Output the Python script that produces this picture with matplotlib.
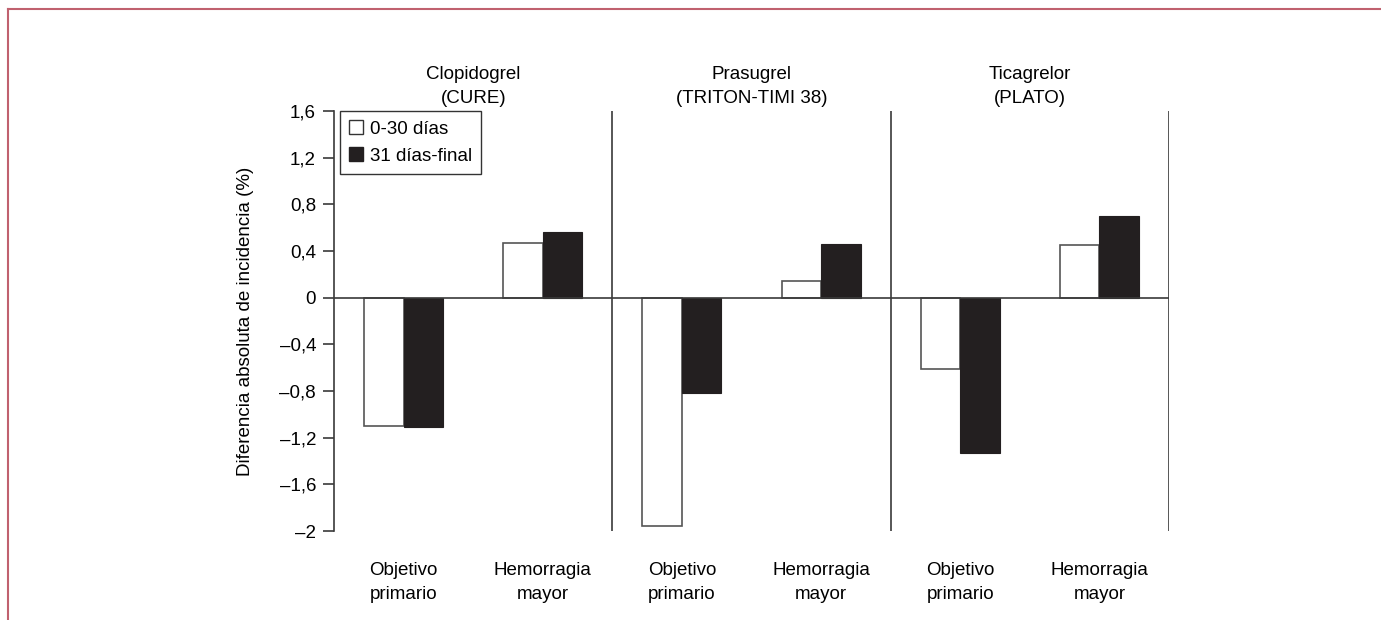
import numpy as np
import matplotlib
matplotlib.use("Agg")
import matplotlib.pyplot as plt
from matplotlib.lines import Line2D
from matplotlib.patches import Patch

plt.rcParams['font.family'] = ['Liberation Sans', 'DejaVu Sans']

# data
drugs = ['Clopidogrel\n(CURE)', 'Prasugrel\n(TRITON-TIMI 38)', 'Ticagrelor\n(PLATO)']
endpoints = ['Objetivo\nprimario', 'Hemorragia\nmayor']
early = [-1.10, 0.47, -1.96, 0.14, -0.61, 0.45]   # 0-30 dias
late = [-1.11, 0.56, -0.82, 0.46, -1.33, 0.70]    # 31 dias-final
yticks = [1.6, 1.2, 0.8, 0.4, 0, -0.4, -0.8, -1.2, -1.6, -2]

line_col = '#3a3a3a'
dark = '#231f20'

fig = plt.figure(figsize=(13.81, 6.2), dpi=100)
ax = fig.add_axes([0.2419, 0.1435, 0.8465 - 0.2419, 0.821 - 0.1435])

x = np.arange(len(early)) + 0.5
w = 0.284
ax.bar(x - w / 2, early, w, color='white', edgecolor='#555555', linewidth=1.2, zorder=2)
ax.bar(x + w / 2, late, w, color=dark, edgecolor=dark, linewidth=0.8, zorder=2)

ax.set_xlim(0, 6)
ax.set_ylim(-2, 1.6)
ax.axhline(0, color=line_col, lw=1.2, zorder=3)
for d in [2, 4, 6]:
    ax.axvline(d, color=line_col, lw=1.2)

for s in ['top', 'right', 'bottom']:
    ax.spines[s].set_visible(False)
ax.spines['left'].set_color(line_col)
ax.spines['left'].set_linewidth(1.2)

ax.set_yticks(yticks)
ax.set_yticklabels([('%g' % v).replace('-', '\u2013').replace('.', ',') for v in yticks], fontsize=13.5)
ax.tick_params(axis='y', length=8, width=1.2, color=line_col, pad=5)
ax.set_xticks(x)
ax.set_xticklabels(endpoints * 3, fontsize=13.5, linespacing=1.55)
ax.tick_params(axis='x', length=0, pad=22)

ax.set_ylabel('Diferencia absoluta de incidencia (%)', fontsize=13.5, labelpad=18)

for i, name in enumerate(drugs):
    ax.text(2 * i + 1, 1.63, name, ha='center', va='bottom', fontsize=13.5, linespacing=1.55)

handles = [Patch(facecolor='white', edgecolor='#333333', linewidth=1.0),
           Patch(facecolor=dark, edgecolor=dark)]
leg = ax.legend(handles, ['0-30 días', '31 días-final'], loc='upper left',
                bbox_to_anchor=(0.007, 1.0), fontsize=13.5, fancybox=False, framealpha=1,
                edgecolor='#333333', handlelength=0.75, handleheight=0.75,
                handletextpad=0.35, borderpad=0.5, labelspacing=0.5, borderaxespad=0)
leg.get_frame().set_linewidth(1.0)

# thin red border of the source figure
border = '#c0616f'
fig.add_artist(Line2D([8 / 1381, 1], [1 - 9 / 620, 1 - 9 / 620], color=border, lw=1.5))
fig.add_artist(Line2D([8 / 1381, 8 / 1381], [0, 1 - 9 / 620], color=border, lw=1.5))

fig.savefig('out.png', dpi=100)
